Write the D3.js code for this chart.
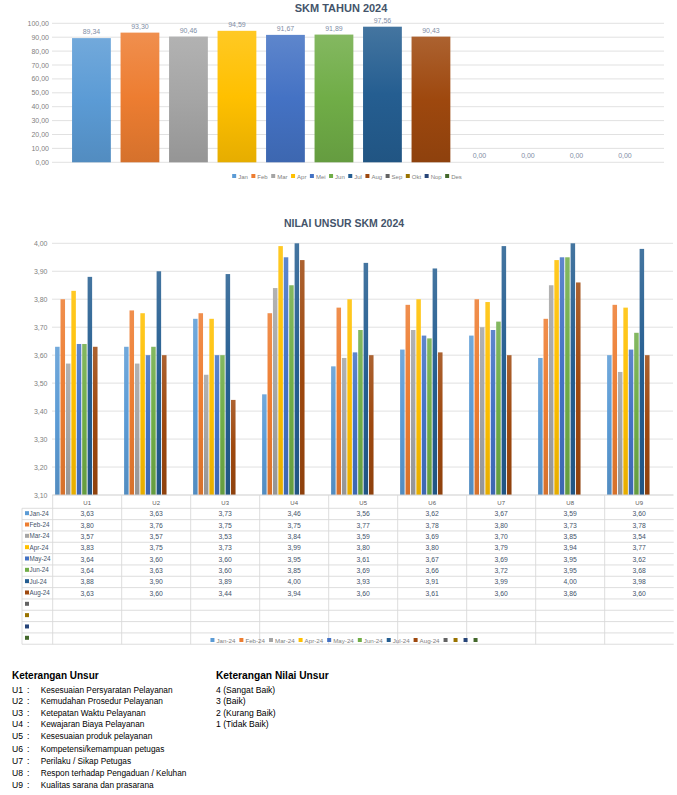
<!DOCTYPE html>
<html>
<head>
<meta charset="utf-8">
<script src="https://cdn.jsdelivr.net/npm/d3@7"></script>
<style>
  html, body { margin: 0; padding: 0; background: #fff; }
  svg { display: block; font-family: "Liberation Sans", Arial, sans-serif; }
</style>
</head>
<body>
<svg id="chart" width="677" height="795"></svg>
<script>
// ---------- DATA ----------
const months = ["Jan","Feb","Mar","Apr","Mei","Jun","Jul","Aug","Sep","Okt","Nop","Des"];
const skmValues = [89.34, 93.30, 90.46, 94.59, 91.67, 91.89, 97.56, 90.43, 0, 0, 0, 0];
const skmTicks = [0,10,20,30,40,50,60,70,80,90,100];

const units = ["U1","U2","U3","U4","U5","U6","U7","U8","U9"];
const seriesNames = ["Jan-24","Feb-24","Mar-24","Apr-24","May-24","Jun-24","Jul-24","Aug-24","","","",""];
const jan24 = [3.63,3.63,3.73,3.46,3.56,3.62,3.67,3.59,3.60];
const feb24 = [3.80,3.76,3.75,3.75,3.77,3.78,3.80,3.73,3.78];
const mar24 = [3.57,3.57,3.53,3.84,3.59,3.69,3.70,3.85,3.54];
const apr24 = [3.83,3.75,3.73,3.99,3.80,3.80,3.79,3.94,3.77];
const may24 = [3.64,3.60,3.60,3.95,3.61,3.67,3.69,3.95,3.62];
const jun24 = [3.64,3.63,3.60,3.85,3.69,3.66,3.72,3.95,3.68];
const jul24 = [3.88,3.90,3.89,4.00,3.93,3.91,3.99,4.00,3.98];
const aug24 = [3.63,3.60,3.44,3.94,3.60,3.61,3.60,3.86,3.60];
const unsurTicks = [3.1,3.2,3.3,3.4,3.5,3.6,3.7,3.8,3.9,4.0];

const unsurLines = [
  ["U1","Kesesuaian Persyaratan Pelayanan"],
  ["U2","Kemudahan Prosedur Pelayanan"],
  ["U3","Ketepatan Waktu Pelayanan"],
  ["U4","Kewajaran Biaya Pelayanan"],
  ["U5","Kesesuaian produk pelayanan"],
  ["U6","Kompetensi/kemampuan petugas"],
  ["U7","Perilaku / Sikap Petugas"],
  ["U8","Respon terhadap Pengaduan / Keluhan"],
  ["U9","Kualitas sarana dan prasarana"]
];
const nilaiLines = ["4 (Sangat Baik)","3 (Baik)","2 (Kurang Baik)","1 (Tidak Baik)"];

const palette = ["#5b9bd5","#ed7d31","#a5a5a5","#ffc000","#4472c4","#70ad47","#255e91","#9e480e","#636363","#997300","#264478","#43682b"];

// ---------- HELPERS ----------
const svg = d3.select("#chart");
const defs = svg.append("defs");
const fmt = v => d3.format(".2f")(v).replace(".", ",");
palette.forEach((c, i) => {
  const g = defs.append("linearGradient").attr("id", "grad" + i)
    .attr("x1", 0).attr("y1", 0).attr("x2", 0).attr("y2", 1);
  g.append("stop").attr("offset", "0%").attr("stop-color", d3.interpolateRgb(c, "#ffffff")(0.14));
  g.append("stop").attr("offset", "50%").attr("stop-color", c);
  g.append("stop").attr("offset", "100%").attr("stop-color", d3.interpolateRgb(c, "#000000")(0.1));
});

function legend(g, names, colors, cx, y, fontSize, gap) {
  const items = g.append("g");
  let x = 0;
  names.forEach((n, i) => {
    const it = items.append("g").attr("transform", `translate(${x},0)`);
    it.append("rect").attr("x", 0).attr("y", y - 3).attr("width", 4).attr("height", 4).attr("fill", colors[i]);
    const t = it.append("text").attr("x", 6).attr("y", y + 1.5).attr("font-size", fontSize)
      .attr("fill", "#7f7f7f").text(n);
    const w = n ? t.node().getComputedTextLength() : 0;
    x += 6 + w + gap;
  });
  const total = x - gap;
  items.attr("transform", `translate(${cx - total / 2},0)`);
}

// ---------- TOP CHART ----------
const gTop = svg.append("g");
const yTop = d3.scaleLinear().domain([0, 100]).range([162.3, 23.3]);
const xTop = d3.scaleBand().domain(months).range([67.2, 649.2]).paddingInner(0.2).paddingOuter(0.1);

gTop.append("text").attr("x", 341).attr("y", 11.5).attr("text-anchor", "middle")
  .attr("font-size", 11).attr("font-weight", "bold").attr("fill", "#44546a").text("SKM TAHUN 2024");

gTop.append("g").selectAll("line").data(skmTicks).join("line")
  .attr("x1", 52).attr("x2", 664).attr("y1", d => yTop(d)).attr("y2", d => yTop(d))
  .attr("stroke", "#d9d9d9").attr("stroke-width", 0.8);
gTop.append("g").selectAll("text").data(skmTicks).join("text")
  .attr("x", 49).attr("y", d => yTop(d) + 2.5).attr("text-anchor", "end")
  .attr("font-size", 7).attr("fill", "#7f7f7f").text(d => fmt(d));

gTop.append("g").selectAll("rect").data(skmValues).join("rect")
  .attr("x", (d, i) => xTop(months[i])).attr("width", xTop.bandwidth())
  .attr("y", d => yTop(d)).attr("height", d => yTop(0) - yTop(d))
  .attr("fill", (d, i) => `url(#grad${i})`);
gTop.append("g").selectAll("text").data(skmValues).join("text")
  .attr("x", (d, i) => xTop(months[i]) + xTop.bandwidth() / 2)
  .attr("y", d => yTop(d) - 4).attr("text-anchor", "middle")
  .attr("font-size", 7).attr("fill", "#7f8ea6").text(d => fmt(d));

legend(gTop, months, palette, 347, 177, 6, 3.5);

// ---------- BOTTOM CHART ----------
const bot = svg.append("g");
const yB = d3.scaleLinear().domain([3.1, 4.0]).range([495, 243.3]);
const x0 = d3.scaleBand().domain(units).range([52.7, 673.7]);
const x1 = d3.scaleBand().domain(d3.range(12)).range([2, x0.bandwidth() - 2]);
const seriesValues = [jan24, feb24, mar24, apr24, may24, jun24, jul24, aug24];

bot.append("text").attr("x", 344).attr("y", 227).attr("text-anchor", "middle")
  .attr("font-size", 10.5).attr("font-weight", "bold").attr("fill", "#44546a").text("NILAI UNSUR SKM 2024");

bot.append("g").selectAll("line").data(unsurTicks).join("line")
  .attr("x1", 52).attr("x2", 673).attr("y1", d => yB(d)).attr("y2", d => yB(d))
  .attr("stroke", "#d9d9d9").attr("stroke-width", 0.8);
bot.append("g").selectAll("text").data(unsurTicks).join("text")
  .attr("x", 47.5).attr("y", d => yB(d) + 2.5).attr("text-anchor", "end")
  .attr("font-size", 7).attr("fill", "#7f7f7f").text(d => fmt(d));

seriesValues.forEach((vals, s) => {
  bot.append("g").selectAll("rect").data(vals).join("rect")
    .attr("x", (d, i) => x0(units[i]) + x1(s) + 0.4)
    .attr("width", x1.bandwidth() - 0.9)
    .attr("y", d => yB(d)).attr("height", d => yB(3.1) - yB(d))
    .attr("fill", `url(#grad${s})`);
});

// data table
const rowTop = 508.3, rowH = 11.33, nRows = 12;
const tbl = bot.append("g");
const gridC = "#d9d9d9";
d3.range(nRows + 1).forEach(r => {
  tbl.append("line").attr("x1", 22).attr("x2", 673.7)
    .attr("y1", rowTop + r * rowH).attr("y2", rowTop + r * rowH).attr("stroke", gridC).attr("stroke-width", 0.9);
});
tbl.append("line").attr("x1", 52.7).attr("x2", 673.7).attr("y1", 495).attr("y2", 495).attr("stroke", gridC).attr("stroke-width", 0.9);
tbl.append("line").attr("x1", 22).attr("x2", 22).attr("y1", rowTop).attr("y2", rowTop + nRows * rowH).attr("stroke", gridC).attr("stroke-width", 0.9);
units.forEach(u => {
  tbl.append("line").attr("x1", x0(u)).attr("x2", x0(u)).attr("y1", 495).attr("y2", rowTop + nRows * rowH)
    .attr("stroke", gridC).attr("stroke-width", 0.9);
});
tbl.selectAll("text.u").data(units).join("text").attr("class", "u")
  .attr("x", d => x0(d) + x0.bandwidth() / 2).attr("y", 504.5).attr("text-anchor", "middle")
  .attr("font-size", 6).attr("fill", "#595959").text(d => d);
seriesNames.forEach((n, s) => {
  const cy = rowTop + s * rowH + rowH / 2;
  tbl.append("rect").attr("x", 25).attr("y", cy - 2.8).attr("width", 4).attr("height", 4).attr("fill", palette[s]);
  if (n) tbl.append("text").attr("x", 29.5).attr("y", cy + 1.8).attr("font-size", 6.3).attr("fill", "#44546a").text(n);
  if (s < seriesValues.length) {
    tbl.append("g").selectAll("text").data(seriesValues[s]).join("text")
      .attr("x", (d, i) => x0(units[i]) + x0.bandwidth() / 2).attr("y", cy + 2.3)
      .attr("text-anchor", "middle").attr("font-size", 6.8).attr("fill", "#44546a").text(d => fmt(d));
  }
});

legend(bot, seriesNames, palette, 345, 641, 6.2, 4);

// ---------- KETERANGAN ----------
const ket = svg.append("g").attr("font-family", "'Liberation Sans', Arial, sans-serif").attr("fill", "#000");
ket.append("text").attr("x", 12).attr("y", 679).attr("font-size", 10).attr("font-weight", "bold").text("Keterangan Unsur");
ket.append("text").attr("x", 216).attr("y", 679).attr("font-size", 10.2).attr("font-weight", "bold").text("Keterangan Nilai Unsur");
const lineYs = [692.5, 704, 715.6, 727.3, 739.3, 752, 763.6, 776, 788.3];
unsurLines.forEach((d, i) => {
  ket.append("text").attr("x", 12).attr("y", lineYs[i]).attr("font-size", 8.6).text(d[0]);
  ket.append("text").attr("x", 27).attr("y", lineYs[i]).attr("font-size", 8.6).text(":");
  ket.append("text").attr("x", 40.7).attr("y", lineYs[i]).attr("font-size", 8.3).text(d[1]);
});
nilaiLines.forEach((d, i) => {
  ket.append("text").attr("x", 216).attr("y", lineYs[i]).attr("font-size", 8.6).text(d);
});
</script>
</body>
</html>
